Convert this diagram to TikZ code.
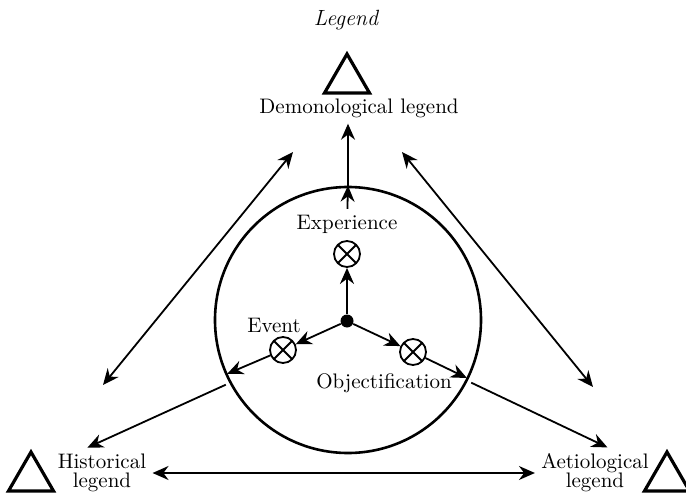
\documentclass[tikz,border=0pt]{standalone}
\usepackage{tikz}
\usetikzlibrary{positioning,arrows.meta,shapes.geometric}
\tikzset{
  lbl/.style={font=\fontsize{10.5}{9.5}\selectfont, inner sep=3pt, align=center},
  tri/.style={draw, regular polygon, regular polygon sides=3, minimum size=26pt, inner sep=0pt, line width=1.6pt},
  ring/.style={draw, circle, minimum size=133pt, inner sep=0pt, line width=1.3pt},
  otim/.style={draw, circle, minimum size=13pt, inner sep=0pt, line width=0.9pt,
    path picture={\draw[line width=0.9pt] (path picture bounding box.south west) -- (path picture bounding box.north east)
      (path picture bounding box.north west) -- (path picture bounding box.south east);}},
  hub/.style={circle, fill, minimum size=6.5pt, inner sep=0pt},
  fl/.style={-{Stealth[length=8pt,width=7pt]}, line width=0.9pt},
  dfl/.style={{Stealth[length=8pt,width=7pt]}-{Stealth[length=8pt,width=7pt]}, line width=0.9pt},
}
\begin{document}
\begin{tikzpicture}[x=0.5pt,y=-0.5pt]
\useasboundingbox (0,0) rectangle (686,498);
\node[lbl, font=\itshape\fontsize{11}{12}\selectfont] (title) at (346,20) {Legend};
\node[tri] (tritop) at (347,80) {};
\node[lbl, anchor=base] (demon) at (359,113) {Demonological legend};
\node[ring] (ring) at (348,320) {};
\node[hub] (hub) at (347,321) {};
\node[otim] (exp) at (347,254) {};
\node[lbl, above=0pt of exp] (explbl) {Experience};
\node[otim] (event) at (283,350) {};
\node[lbl, anchor=base] (eventlbl) at (274,332) {Event};
\node[otim] (obj) at (413,352) {};
\node[lbl, anchor=base] (objlbl) at (384,388) {Objectification};
\node[lbl] (hist) at (102,473) {Historical\\legend};
\node[lbl] (aet) at (595,473) {Aetiological\\legend};
\node[tri] (trihist) at (31,478) {};
\node[tri] (triaet) at (667,478) {};
\coordinate (dlt) at (293,152);
\coordinate (dlb) at (103,385);
\coordinate (drt) at (402,152);
\coordinate (drb) at (593,387);
\draw[dfl] (dlt) -- (dlb);
\draw[dfl] (drt) -- (drb);
\draw[dfl] (hist.east) -- (aet.west);
\draw[fl] (hub) -- (exp);
\draw[fl] (hub) -- (event);
\draw[fl] (hub) -- (obj);
\draw[fl] (explbl) -- (ring.north);
\draw[fl] (ring.north) -- (ring.north |- demon.south);
\draw[fl,shorten >=1pt] (event) -- (ring.204);
\draw[fl,shorten >=1pt] (obj) -- (ring.334);
\draw[fl,shorten <=2pt] (ring.208) -- (hist.120);
\draw[fl,shorten <=2pt] (ring.333) -- (aet.64);
\end{tikzpicture}
\end{document}
